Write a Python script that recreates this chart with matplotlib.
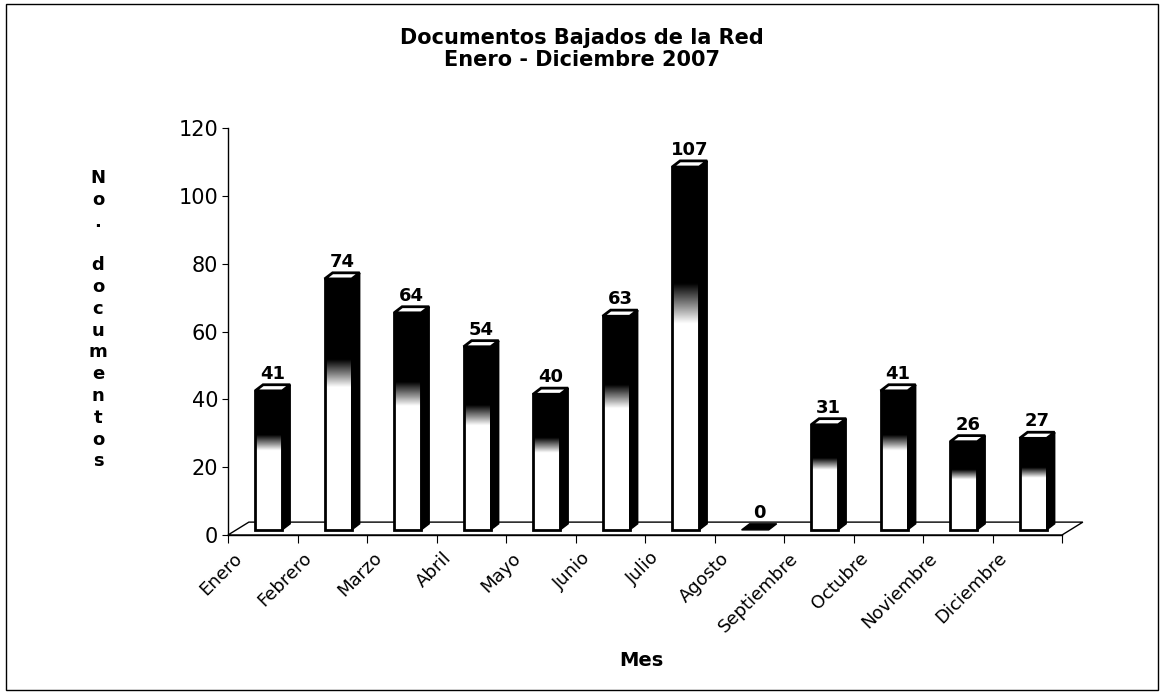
import numpy as np
import matplotlib.pyplot as plt
from matplotlib.patches import Polygon, Rectangle
from matplotlib.colors import LinearSegmentedColormap

# data
meses = ["Enero", "Febrero", "Marzo", "Abril", "Mayo", "Junio", "Julio",
         "Agosto", "Septiembre", "Octubre", "Noviembre", "Diciembre"]
documentos = [41, 74, 64, 54, 40, 63, 107, 0, 31, 41, 26, 27]

fig = plt.figure(figsize=(11.64, 6.94), dpi=100)
ax = fig.add_axes([228 / 1164, (694 - 535) / 694, 834 / 1164, 407 / 694])
ax.set_xlim(0, 12)
ax.set_ylim(0, 120)

# fake 3d settings (in data units)
base = 1.5          # bars sit a bit behind the front edge of the floor
ddx, ddy = 0.115, 1.8   # depth of the bars
fdx, fdy = 0.30, 3.8    # depth of the floor
x0_off, w = 0.39, 0.39

# floor
ax.add_patch(Polygon([(0, 0), (fdx, fdy), (12 + fdx, fdy), (12, 0)],
                     closed=True, facecolor="white", edgecolor="black",
                     lw=1.0, clip_on=False, zorder=1))

# white bottom -> black top gradient for the front faces
cmap = LinearSegmentedColormap.from_list(
    "wb", [(0, "white"), (0.57, "white"), (0.61, "#a0a0a0"), (0.68, "black"), (1, "black")])
grad = np.linspace(0, 1, 256).reshape(-1, 1)

for i, v in enumerate(documentos):
    x0 = i + x0_off
    x1 = x0 + w
    y0 = base
    y1 = base + v
    if v > 0:
        ax.imshow(grad, cmap=cmap, origin="lower", aspect="auto",
                  extent=(x0, x1, y0, y1), zorder=3, interpolation="bilinear")
        ax.add_patch(Rectangle((x0, y0), w, v, facecolor="none",
                               edgecolor="black", lw=2.0, zorder=4))
        # side face
        ax.add_patch(Polygon([(x1, y0), (x1 + ddx, y0 + ddy), (x1 + ddx, y1 + ddy), (x1, y1)],
                             closed=True, facecolor="black", edgecolor="black",
                             lw=1.0, zorder=4))
        # top face
        ax.add_patch(Polygon([(x0, y1), (x0 + ddx, y1 + ddy), (x1 + ddx, y1 + ddy), (x1, y1)],
                             closed=True, facecolor="white", edgecolor="black",
                             lw=2.0, zorder=5))
    else:
        ax.add_patch(Polygon([(x0, y1), (x0 + ddx, y1 + ddy), (x1 + ddx, y1 + ddy), (x1, y1)],
                             closed=True, facecolor="black", edgecolor="black",
                             lw=1.0, zorder=5))
    ax.text(x0 + (w + ddx) / 2, y1 + ddy + 0.6, str(v), ha="center", va="bottom",
            fontsize=13, fontweight="bold", zorder=6)

# axes look
for s in ["top", "right"]:
    ax.spines[s].set_visible(False)
ax.spines["left"].set_linewidth(1.0)
ax.spines["bottom"].set_linewidth(1.0)
ax.set_yticks(range(0, 121, 20))
ax.tick_params(axis="y", labelsize=15, length=4, width=0.8, pad=3)
ax.set_xticks(range(0, 13))
ax.set_xticklabels([])
ax.tick_params(axis="x", length=6, width=0.8, direction="out")

for i, m in enumerate(meses):
    ax.text(i + 0.17, -6.0, m, rotation=45, rotation_mode="anchor",
            ha="right", va="center", fontsize=13)

# titles
fig.text(0.5, 1 - 38 / 694, "Documentos Bajados de la Red", ha="center", va="center",
         fontsize=15, fontweight="bold")
fig.text(0.5, 1 - 60 / 694, "Enero - Diciembre 2007", ha="center", va="center",
         fontsize=15, fontweight="bold")

ylabel = "No. documentos"
for k, ch in enumerate(ylabel):
    fig.text(98 / 1164, 1 - (178 + k * 21.8) / 694, ch, ha="center", va="center",
             fontsize=13, fontweight="bold")

fig.text(641 / 1164, 1 - 660 / 694, "Mes", ha="center", va="center",
         fontsize=14, fontweight="bold")

# outer frame
fig.patches.append(Rectangle((6 / 1164, 4 / 694), 1152 / 1164, 686 / 694,
                             transform=fig.transFigure, fill=False,
                             edgecolor="black", lw=1.0))

fig.savefig("out.png", dpi=100)
